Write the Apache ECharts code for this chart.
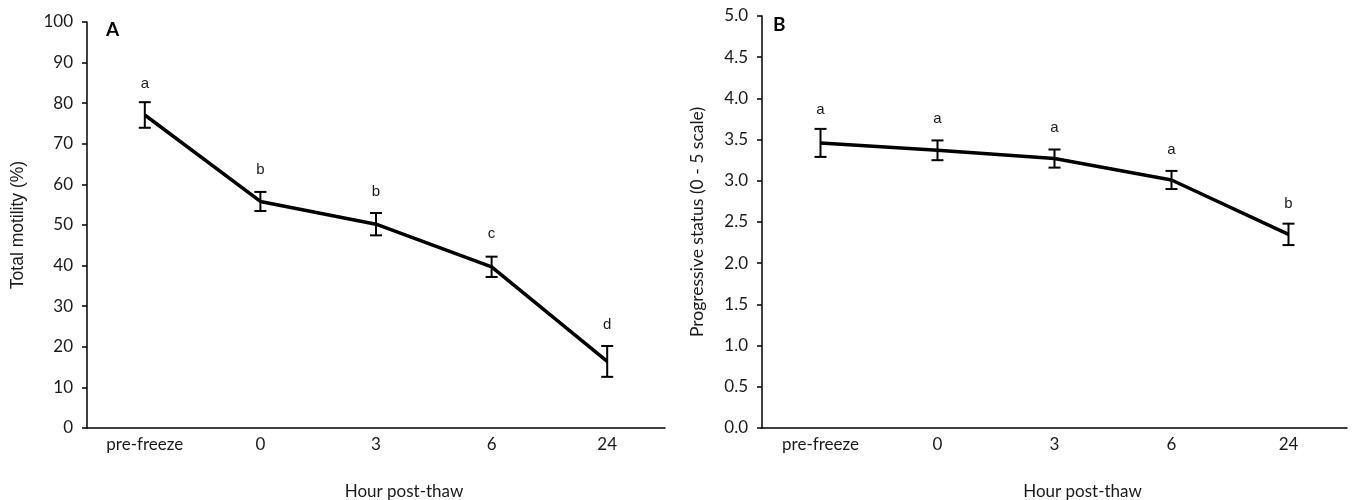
<!DOCTYPE html>
<html>
<head>
<meta charset="utf-8">
<script src="https://cdn.jsdelivr.net/npm/echarts@6/dist/echarts.min.js"></script>
<style>
  html, body { margin: 0; padding: 0; background: #fff; }
  #main { width: 1355px; height: 500px; }
</style>
</head>
<body>
<div id="main"></div>
<script>
// x categories (shared by both panels)
const categories = ["pre-freeze", "0", "3", "6", "24"];

// panel A - total motility (%)
const motilityMean = [77.1, 55.8, 50.2, 39.7, 16.4];
const motilityErr = [3.15, 2.35, 2.75, 2.5, 3.8];
const motilityLetters = ["a", "b", "b", "c", "d"];
const motilityLetterY = [84.7, 63.5, 58.1, 47.8, 25.4];

// panel B - progressive status (0 - 5 scale)
const progressMean = [3.46, 3.37, 3.27, 3.01, 2.35];
const progressErr = [0.17, 0.12, 0.11, 0.11, 0.13];
const progressLetters = ["a", "a", "a", "a", "b"];
const progressLetterY = [3.86, 3.75, 3.64, 3.38, 2.72];

const tickFont = "Lato, 'Open Sans', sans-serif";
const txt = "#1a1a1a";

const chart = echarts.init(document.getElementById("main"), null, { renderer: "canvas" });

// error bar: vertical stem with caps
function errorBars(mean, err) {
  return function (params, api) {
    const i = api.value(0);
    const hi = api.coord([i, mean[i] + err[i]]);
    const lo = api.coord([i, mean[i] - err[i]]);
    const cap = 6;
    const style = { stroke: "#000", lineWidth: 2 };
    return {
      type: "group",
      children: [
        { type: "line", shape: { x1: hi[0], y1: hi[1], x2: lo[0], y2: lo[1] }, style: style },
        { type: "line", shape: { x1: hi[0] - cap, y1: hi[1], x2: hi[0] + cap, y2: hi[1] }, style: style },
        { type: "line", shape: { x1: lo[0] - cap, y1: lo[1], x2: lo[0] + cap, y2: lo[1] }, style: style },
      ],
    };
  };
}

function letterText(letters, ys) {
  return function (params, api) {
    const i = api.value(0);
    const p = api.coord([i, ys[i]]);
    return {
      type: "text",
      x: p[0],
      y: p[1],
      style: {
        text: letters[i],
        fill: txt,
        font: "15px 'Liberation Sans', Arial, sans-serif",
        align: "center",
        verticalAlign: "middle",
      },
    };
  };
}

function xAxisFor(gridIndex) {
  return {
    type: "category",
    gridIndex: gridIndex,
    data: categories,
    boundaryGap: true,
    name: "Hour post-thaw",
    nameLocation: "middle",
    nameGap: 55,
    nameTextStyle: { fontFamily: tickFont, fontSize: 17, color: txt, padding: [0, 0, 0, 56] },
    axisLine: { lineStyle: { color: "#000", width: 1.5 } },
    axisTick: { alignWithLabel: true, length: 5, lineStyle: { color: "#000", width: 1.5 } },
    axisLabel: { fontFamily: tickFont, fontSize: 17, color: txt, margin: 8 },
    splitLine: { show: false },
  };
}

const idx = categories.map((c, i) => i);

const option = {
  backgroundColor: "#fff",
  animation: false,
  title: [
    { text: "A", left: 101, top: 15, textStyle: { fontFamily: tickFont, fontWeight: "bold", fontSize: 19, color: "#000" } },
    { text: "B", left: 768, top: 10, textStyle: { fontFamily: tickFont, fontWeight: "bold", fontSize: 19, color: "#000" } },
  ],
  grid: [
    { left: 87, top: 22, width: 578, bottom: 72, containLabel: false, outerBoundsMode: "none" },
    { left: 762, top: 16, width: 585, bottom: 72, containLabel: false, outerBoundsMode: "none" },
  ],
  xAxis: [xAxisFor(0), xAxisFor(1)],
  yAxis: [
    {
      type: "value",
      gridIndex: 0,
      min: 0,
      max: 100,
      interval: 10,
      name: "Total motility (%)",
      nameLocation: "middle",
      nameGap: 60,
      nameTextStyle: { fontFamily: "'Liberation Sans', Arial, sans-serif", fontSize: 17.5, color: txt },
      axisLine: { show: true, lineStyle: { color: "#000", width: 1.5 } },
      axisTick: { show: true, length: 5, lineStyle: { color: "#000", width: 1.5 } },
      axisLabel: { fontFamily: tickFont, fontSize: 17, color: txt, margin: 14 },
      splitLine: { show: false },
    },
    {
      type: "value",
      gridIndex: 1,
      min: 0,
      max: 5,
      interval: 0.5,
      name: "Progressive status (0 - 5 scale)",
      nameLocation: "middle",
      nameGap: 56,
      nameTextStyle: { fontFamily: tickFont, fontSize: 17.5, color: txt },
      axisLine: { show: true, lineStyle: { color: "#000", width: 1.5 } },
      axisTick: { show: true, length: 5, lineStyle: { color: "#000", width: 1.5 } },
      axisLabel: { fontFamily: tickFont, fontSize: 17, color: txt, margin: 14, formatter: (v) => v.toFixed(1) },
      splitLine: { show: false },
    },
  ],
  series: [
    {
      type: "line",
      xAxisIndex: 0,
      yAxisIndex: 0,
      data: motilityMean,
      showSymbol: false,
      symbol: "none",
      lineStyle: { color: "#000", width: 3.5 },
      z: 3,
    },
    {
      type: "custom",
      xAxisIndex: 0,
      yAxisIndex: 0,
      data: idx,
      renderItem: errorBars(motilityMean, motilityErr),
      z: 4,
    },
    {
      type: "custom",
      xAxisIndex: 0,
      yAxisIndex: 0,
      data: idx,
      renderItem: letterText(motilityLetters, motilityLetterY),
      z: 5,
    },
    {
      type: "line",
      xAxisIndex: 1,
      yAxisIndex: 1,
      data: progressMean,
      showSymbol: false,
      symbol: "none",
      lineStyle: { color: "#000", width: 3.5 },
      z: 3,
    },
    {
      type: "custom",
      xAxisIndex: 1,
      yAxisIndex: 1,
      data: idx,
      renderItem: errorBars(progressMean, progressErr),
      z: 4,
    },
    {
      type: "custom",
      xAxisIndex: 1,
      yAxisIndex: 1,
      data: idx,
      renderItem: letterText(progressLetters, progressLetterY),
      z: 5,
    },
  ],
};

chart.setOption(option);
</script>
</body>
</html>
